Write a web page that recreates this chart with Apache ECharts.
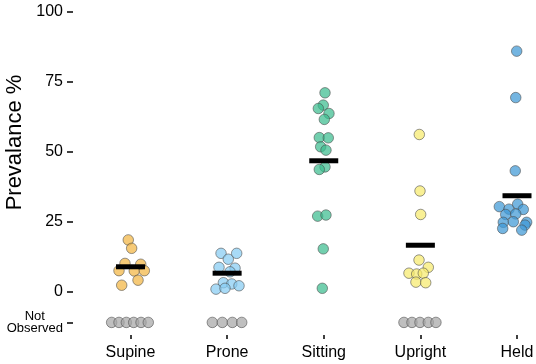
<!DOCTYPE html>
<html><head><meta charset="utf-8">
<script src="https://cdn.jsdelivr.net/npm/echarts@6/dist/echarts.min.js"></script>
<style>html,body{margin:0;padding:0;background:#fff}#c{width:536px;height:364px}</style>
</head><body><div id="c"></div>
<script>
const categories = ['Supine', 'Prone', 'Sitting', 'Upright', 'Held'];
const xTicks = [0, 1, 2, 3, 4];
const yTicks = [-11, 0, 25, 50, 75, 100];
const notObservedValue = -11;

// [x position (category index + jitter), prevalence %]
const supine = [[-0.023,18.5],[0.012,15.5],[-0.057,10.1],[0.106,9.8],[-0.119,7.5],[0.039,7.4],[0.143,7.5],[0.078,4.1],[-0.091,2.3]];
const prone = [[0.937,13.7],[1.099,13.7],[1.012,11.6],[0.916,8.7],[1.082,8.4],[1.030,7.1],[0.961,3.2],[1.048,2.75],[1.123,2.1],[0.885,0.9],[0.978,1.2]];
const sitting = [[2.013,71.1],[1.995,66.7],[1.944,65.5],[2.054,63.7],[2.006,61.6],[1.954,55.1],[2.047,55.0],[1.968,51.8],[2.023,50.6],[2.013,44.6],[1.954,43.7],[1.937,27.0],[2.023,27.4],[1.995,15.3],[1.985,1.2]];
const upright = [[2.989,56.2],[2.996,36.0],[3.003,27.6],[2.986,11.3],[3.082,8.7],[2.882,6.6],[2.962,6.3],[3.030,6.6],[2.954,3.4],[3.055,3.2]];
const held = [[3.997,86.0],[3.987,69.4],[3.982,43.2],[3.817,30.4],[3.917,29.5],[4.007,31.3],[4.065,29.4],[3.883,27.6],[3.987,27.8],[3.858,24.8],[3.962,25.0],[4.100,24.8],[4.083,23.8],[3.852,22.6],[4.049,22.0]];
// x positions of "Not Observed" points
const notObservedX = [-0.195,-0.119,-0.043,0.033,0.109,0.184, 0.847,0.950,1.054,1.151, 2.830,2.913,2.996,3.082,3.161];
const means = [8.9, 6.6, 46.8, 16.6, 34.3];

const colors = ['#F2B643', '#86CCF2', '#3CBC8F', '#F6EA6C', '#3F99D6'];
const groups = [supine, prone, sitting, upright, held];

const chart = echarts.init(document.getElementById('c'), null, {renderer: 'canvas'});
const font = 'Liberation Sans, Arial, Helvetica, sans-serif';

const series = groups.map((g, i) => ({
  type: 'scatter', name: categories[i], data: g, symbolSize: 10.5, clip: false,
  itemStyle: {color: colors[i], opacity: 0.72, borderColor: '#4a4a4a', borderWidth: 0.8},
  z: 2
}));
series.push({
  type: 'scatter', name: 'Not Observed', clip: false, symbolSize: 10.5,
  data: notObservedX.map(x => [x, notObservedValue]),
  itemStyle: {color: '#A6A6A6', opacity: 0.72, borderColor: '#4a4a4a', borderWidth: 0.8}, z: 2
});
series.push({
  type: 'scatter', name: 'Mean', clip: false, symbol: 'rect', symbolSize: [29, 5],
  data: means.map((m, i) => [i, m]),
  itemStyle: {color: '#000', opacity: 1}, z: 5
});

chart.setOption({
  animation: false,
  backgroundColor: '#fff',
  grid: {left: 73, right: 19, top: 12, bottom: 29, containLabel: false, outerBoundsMode: 'none'},
  xAxis: {
    type: 'value', min: -0.595, max: 4, position: 'bottom',
    axisLine: {show: false, onZero: false}, splitLine: {show: false},
    axisTick: {show: true, length: 4, customValues: xTicks, lineStyle: {color: '#000', width: 1.5}},
    axisLabel: {color: '#000', fontSize: 16, fontFamily: font, margin: 10, customValues: xTicks,
      formatter: v => categories[Math.round(v)] || ''}
  },
  yAxis: {
    type: 'value', min: -15.5, max: 100, position: 'left',
    name: 'Prevalance %', nameLocation: 'middle', nameGap: 47, nameRotate: 90, nameMoveOverlap: false,
    nameTextStyle: {color: '#000', fontSize: 22, fontFamily: font, padding: [0, 0, 0, 62]},
    axisLine: {show: false, onZero: false}, splitLine: {show: false},
    axisTick: {show: true, length: 6, customValues: yTicks, lineStyle: {color: '#000', width: 1.5}},
    axisLabel: {color: '#000', fontSize: 16, fontFamily: font, margin: 10, customValues: yTicks,
      formatter: v => v === notObservedValue ? '{s|Not}\n{s|Observed}' : String(v),
      rich: {s: {fontSize: 13, fontFamily: font, color: '#000', lineHeight: 12.5, align: 'center'}}}
  },
  series
});
</script></body></html>
